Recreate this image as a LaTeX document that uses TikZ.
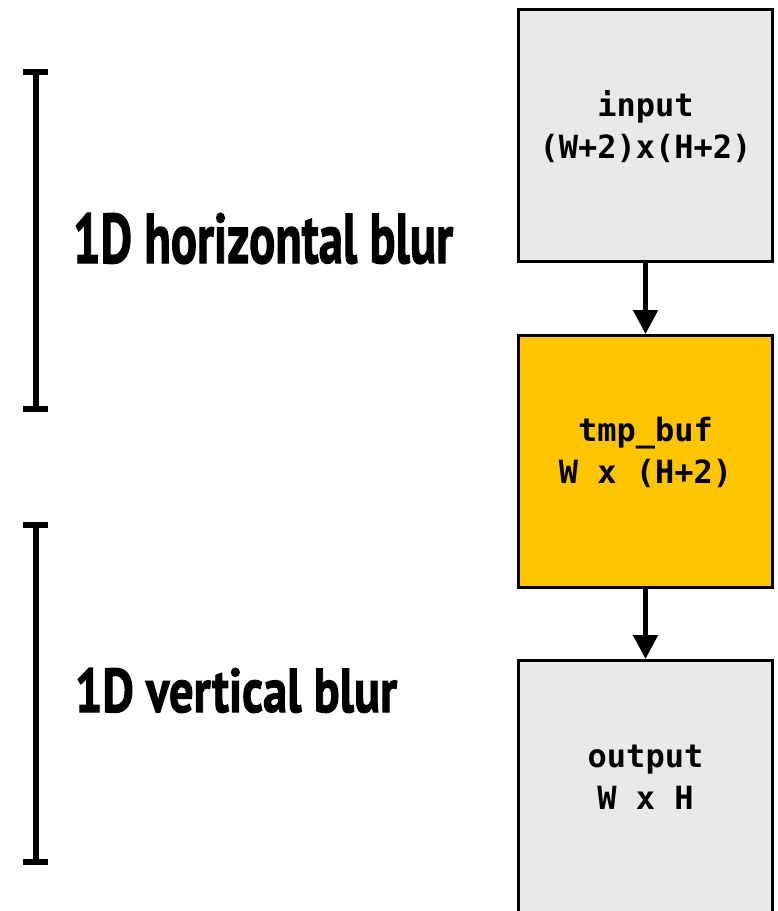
\documentclass[tikz,border=0pt]{standalone}
\usepackage{fontspec}
\usepackage{graphicx}
\usetikzlibrary{arrows.meta}
\newfontfamily\monofont{DejaVu Sans Mono}
\newfontfamily\labelfont[BoldFeatures={FakeBold=1.8}]{PT Sans}
\definecolor{boxgray}{HTML}{E9E9E9}
\definecolor{bufyellow}{HTML}{FFC600}
\tikzset{
  buffer/.style={draw=black, line width=3pt, minimum width=254pt, minimum height=252pt,
    inner sep=0pt},
  boxtext/.style={inner sep=0pt, align=center,
    font=\monofont\bfseries\fontsize{32}{42}\selectfont},
  flow/.style={line width=5pt, -{Triangle[width=24pt,length=24pt]}},
  bracket/.style={line width=6pt},
  stage/.style={anchor=base west, inner sep=0pt, outer sep=0pt}
}
\begin{document}
\begin{tikzpicture}[x=1pt, y=-1pt]
  \useasboundingbox (0,0) rectangle (778,911);

  % buffers
  \node[buffer, fill=boxgray] (in) at (645.5,135.5) {};
  \node[buffer, fill=bufyellow] (tmp) at (645.5,461.5) {};
  \node[buffer, fill=boxgray] (out) at (645.5,786.5) {};
  \node[boxtext] (intext) at ([yshift=9pt]in.center) {input\\(W+2)x(H+2)};
  \node[boxtext] (tmptext) at ([yshift=9pt]tmp.center) {tmp\_buf\\W x (H+2)};
  \node[boxtext] (outtext) at ([yshift=9pt]out.center) {output\\W x H};

  % data flow
  \draw[flow] (in.south) -- (tmp.north);
  \draw[flow] (tmp.south) -- (out.north);

  % stage brackets
  \coordinate (h1) at (36,72);
  \coordinate (h2) at (36,409);
  \coordinate (v1) at (36,525);
  \coordinate (v2) at (36,862);
  \draw[bracket] ([xshift=-13pt]h1) -- ([xshift=12pt]h1);
  \draw[bracket] ([xshift=-13pt]h2) -- ([xshift=12pt]h2);
  \draw[line width=5.5pt] (h1) -- (h2);
  \draw[bracket] ([xshift=-13pt]v1) -- ([xshift=12pt]v1);
  \draw[bracket] ([xshift=-13pt]v2) -- ([xshift=12pt]v2);
  \draw[line width=5.5pt] (v1) -- (v2);

  % stage labels
  \node[stage] (hlab) at (73,263) {\resizebox{380pt}{50pt}{\labelfont\bfseries 1D horizontal blur}};
  \node[stage] (vlab) at (75,712) {\resizebox{322pt}{44pt}{\labelfont\bfseries 1D vertical blur}};
\end{tikzpicture}
\end{document}
